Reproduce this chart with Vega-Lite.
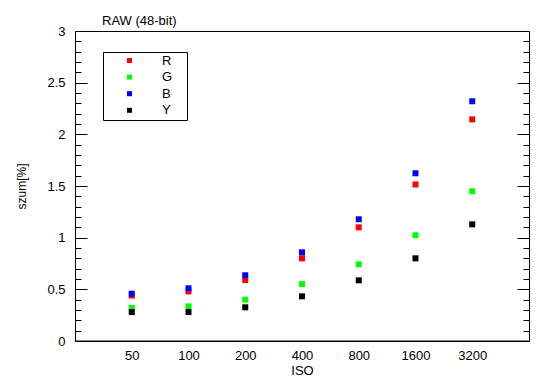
{
  "$schema": "https://vega.github.io/schema/vega-lite/v6.json",
  "width": 454,
  "height": 310,
  "autosize": {"type": "none"},
  "padding": {"left": 75, "top": 31, "right": 21, "bottom": 48},
  "background": "white",
  "title": {"text": "RAW (48-bit)", "anchor": "start", "dx": 27, "offset": -13, "baseline": "alphabetic", "fontSize": 13, "fontWeight": "normal", "font": "Liberation Sans", "color": "black", "frame": "group"},
  "data": {"values": [
    {"ISO": "50", "k": "R", "v": 0.44}, {"ISO": "100", "k": "R", "v": 0.48}, {"ISO": "200", "k": "R", "v": 0.59}, {"ISO": "400", "k": "R", "v": 0.80}, {"ISO": "800", "k": "R", "v": 1.10}, {"ISO": "1600", "k": "R", "v": 1.515}, {"ISO": "3200", "k": "R", "v": 2.145},
    {"ISO": "50", "k": "G", "v": 0.32}, {"ISO": "100", "k": "G", "v": 0.335}, {"ISO": "200", "k": "G", "v": 0.40}, {"ISO": "400", "k": "G", "v": 0.55}, {"ISO": "800", "k": "G", "v": 0.742}, {"ISO": "1600", "k": "G", "v": 1.023}, {"ISO": "3200", "k": "G", "v": 1.449},
    {"ISO": "50", "k": "B", "v": 0.458}, {"ISO": "100", "k": "B", "v": 0.51}, {"ISO": "200", "k": "B", "v": 0.636}, {"ISO": "400", "k": "B", "v": 0.858}, {"ISO": "800", "k": "B", "v": 1.178}, {"ISO": "1600", "k": "B", "v": 1.623}, {"ISO": "3200", "k": "B", "v": 2.32},
    {"ISO": "50", "k": "Y", "v": 0.28}, {"ISO": "100", "k": "Y", "v": 0.28}, {"ISO": "200", "k": "Y", "v": 0.326}, {"ISO": "400", "k": "Y", "v": 0.432}, {"ISO": "800", "k": "Y", "v": 0.587}, {"ISO": "1600", "k": "Y", "v": 0.80}, {"ISO": "3200", "k": "Y", "v": 1.129}
  ]},
  "layer": [
    {
      "data": {"values": [{"z": 0}]},
      "mark": {"type": "rule", "color": "black", "strokeWidth": 1},
      "encoding": {
        "y": {"datum": 0, "type": "quantitative", "scale": {"domain": [0, 3]},
          "axis": {"orient": "right", "title": null, "labels": false, "domain": false, "grid": false,
            "values": [0,0.1,0.2,0.3,0.4,0.5,0.6,0.7,0.8,0.9,1,1.1,1.2,1.3,1.4,1.5,1.6,1.7,1.8,1.9,2,2.1,2.2,2.3,2.4,2.5,2.6,2.7,2.8,2.9,3],
            "tickSize": {"condition": {"test": "abs(datum.value * 2 - round(datum.value * 2)) < 0.001", "value": -12}, "value": -6}}}
      }
    },
    {
      "mark": {"type": "square", "size": 36, "opacity": 1},
      "encoding": {
        "x": {"field": "ISO", "type": "ordinal", "sort": ["50", "100", "200", "400", "800", "1600", "3200"],
          "scale": {"type": "point", "padding": 1},
          "axis": {"title": "ISO", "ticks": false, "domain": false, "labelAngle": 0, "labelPadding": 8, "titlePadding": 2}},
        "y": {"field": "v", "type": "quantitative", "scale": {"domain": [0, 3]},
          "axis": {"orient": "left", "title": "szum[%]", "titleFontSize": 12, "domain": false, "grid": false,
            "values": [0,0.1,0.2,0.3,0.4,0.5,0.6,0.7,0.8,0.9,1,1.1,1.2,1.3,1.4,1.5,1.6,1.7,1.8,1.9,2,2.1,2.2,2.3,2.4,2.5,2.6,2.7,2.8,2.9,3],
            "labelExpr": "abs(datum.value * 2 - round(datum.value * 2)) < 0.001 ? format(datum.value, '~g') : ''",
            "labelOverlap": false, "labelPadding": 22,
            "tickSize": {"condition": {"test": "abs(datum.value * 2 - round(datum.value * 2)) < 0.001", "value": -12}, "value": -6},
            "titlePadding": 18}},
        "color": {"field": "k", "type": "nominal",
          "scale": {"domain": ["R", "G", "B", "Y"], "range": ["#ff0000", "#00ff00", "#0000ff", "#000000"]},
          "legend": {"orient": "none", "legendX": 28, "legendY": 21, "title": "\u00a0", "titleOrient": "right", "titlePadding": 13,
            "strokeColor": "black", "padding": 2, "symbolType": "square", "symbolSize": 25, "symbolStrokeWidth": 0,
            "symbolOffset": 18, "labelOffset": 26, "rowPadding": 2.6, "labelFontSize": 13}}
      }
    }
  ],
  "resolve": {"axis": {"y": "independent"}},
  "config": {
    "view": {"stroke": "black", "strokeWidth": 1},
    "font": "Liberation Sans",
    "axis": {"labelFont": "Liberation Sans", "labelFontSize": 13, "labelColor": "black", "titleFont": "Liberation Sans", "titleFontSize": 13, "titleFontWeight": "normal", "titleColor": "black", "tickColor": "black", "tickWidth": 1},
    "legend": {"labelFont": "Liberation Sans", "labelColor": "black", "titleFont": "Liberation Sans", "titleFontSize": 13}
  }
}
